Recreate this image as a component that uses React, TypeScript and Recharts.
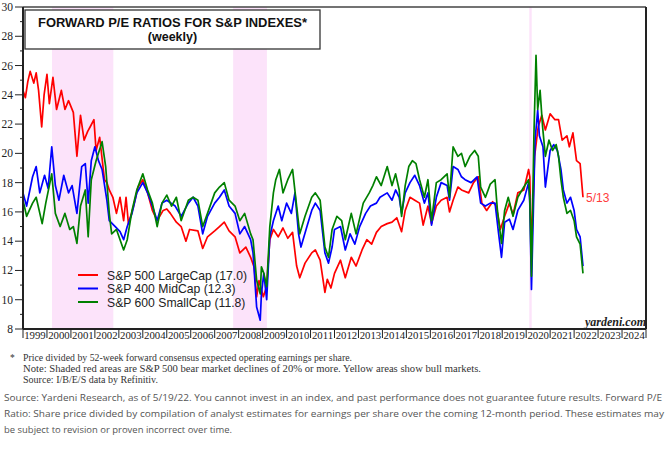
import React from 'react';
import { LineChart, Line, XAxis, YAxis, ReferenceArea, ReferenceLine } from 'recharts';

// Forward P/E readings, [decimal year, ratio]
const LARGE_CAP: Array<[number, number]> = [
  [1999.0, 24.3], [1999.1, 23.8], [1999.2, 24.9], [1999.3, 25.6], [1999.45, 24.8], [1999.55, 25.5],
  [1999.65, 24.3], [1999.78, 21.8], [1999.88, 24.0], [2000.0, 25.4], [2000.1, 23.4], [2000.25, 25.2],
  [2000.4, 23.0], [2000.6, 24.3], [2000.75, 23.0], [2000.9, 23.6], [2001.1, 22.8], [2001.25, 19.8],
  [2001.4, 22.6], [2001.55, 20.9], [2001.7, 21.5], [2001.8, 21.8], [2001.96, 22.3], [2002.05, 20.2],
  [2002.2, 21.1], [2002.4, 18.2], [2002.5, 18.0], [2002.6, 17.5], [2002.75, 17.0], [2002.9, 15.9],
  [2003.05, 17.0], [2003.2, 15.4], [2003.3, 17.0], [2003.4, 15.2], [2003.6, 16.3], [2003.8, 17.7],
  [2004.0, 18.2], [2004.2, 17.3], [2004.4, 16.1], [2004.6, 15.4], [2004.85, 16.1], [2005.0, 16.2],
  [2005.15, 15.9], [2005.4, 15.3], [2005.6, 15.0], [2005.8, 14.0], [2005.95, 14.8], [2006.3, 14.7],
  [2006.5, 13.5], [2006.7, 14.3], [2007.0, 14.7], [2007.2, 15.0], [2007.4, 15.3], [2007.6, 14.7],
  [2007.85, 14.3], [2008.05, 13.2], [2008.3, 13.6], [2008.5, 12.9], [2008.65, 12.2], [2008.75, 10.2],
  [2008.85, 11.3], [2009.03, 10.2], [2009.17, 10.9], [2009.3, 14.1], [2009.45, 14.8], [2009.65, 14.3],
  [2009.85, 14.9], [2010.05, 14.2], [2010.25, 14.6], [2010.42, 12.3], [2010.55, 11.5], [2010.77, 12.5],
  [2011.05, 13.2], [2011.2, 13.4], [2011.4, 12.7], [2011.6, 10.5], [2011.7, 11.4], [2011.85, 10.8],
  [2012.0, 11.8], [2012.25, 12.7], [2012.45, 11.5], [2012.7, 12.9], [2012.9, 12.3], [2013.15, 13.4],
  [2013.35, 14.1], [2013.55, 13.8], [2013.75, 14.6], [2013.95, 15.0], [2014.2, 15.2], [2014.4, 15.3],
  [2014.6, 15.6], [2014.8, 14.65], [2014.95, 16.1], [2015.15, 17.0], [2015.35, 16.8], [2015.55, 16.6],
  [2015.7, 15.1], [2015.9, 16.4], [2016.05, 15.2], [2016.25, 16.4], [2016.45, 16.8], [2016.7, 17.0],
  [2016.8, 16.0], [2016.95, 16.8], [2017.15, 17.7], [2017.3, 17.5], [2017.6, 17.3], [2017.8, 18.0],
  [2018.0, 18.4], [2018.15, 16.6], [2018.35, 16.1], [2018.6, 16.7], [2018.75, 16.4], [2018.92, 14.8],
  [2019.1, 15.7], [2019.3, 16.6], [2019.45, 15.8], [2019.65, 17.3], [2019.9, 17.5], [2020.1, 18.9],
  [2020.15, 18.4], [2020.22, 13.4], [2020.35, 19.8], [2020.5, 21.8], [2020.65, 22.6], [2020.8, 21.6],
  [2021.0, 22.7], [2021.2, 22.3], [2021.35, 22.3], [2021.5, 20.9], [2021.7, 21.2], [2021.8, 20.45],
  [2021.95, 21.4], [2022.1, 19.5], [2022.25, 19.3], [2022.37, 17.0],
];

const MID_CAP: Array<[number, number]> = [
  [1999.0, 17.3], [1999.15, 16.4], [1999.3, 17.6], [1999.4, 18.4], [1999.55, 19.1], [1999.7, 17.3],
  [1999.9, 18.5], [2000.05, 17.6], [2000.2, 20.45], [2000.35, 17.8], [2000.5, 16.8], [2000.7, 18.5],
  [2000.9, 17.3], [2001.05, 17.8], [2001.25, 15.9], [2001.45, 19.1], [2001.6, 19.3], [2001.72, 16.6],
  [2001.85, 19.5], [2002.0, 20.45], [2002.15, 19.5], [2002.3, 18.9], [2002.5, 16.8], [2002.6, 15.4],
  [2002.85, 15.0], [2003.05, 14.65], [2003.2, 14.1], [2003.35, 15.0], [2003.55, 15.9], [2003.75, 17.3],
  [2004.0, 18.0], [2004.2, 17.3], [2004.4, 16.4], [2004.6, 15.4], [2004.8, 16.6], [2005.0, 16.8],
  [2005.35, 16.4], [2005.6, 15.7], [2005.9, 16.6], [2006.1, 17.0], [2006.3, 16.4], [2006.5, 14.5],
  [2006.7, 15.7], [2007.0, 16.6], [2007.2, 17.0], [2007.4, 17.5], [2007.6, 16.4], [2007.85, 15.9],
  [2008.05, 14.5], [2008.25, 15.0], [2008.5, 14.1], [2008.6, 13.2], [2008.75, 9.5], [2008.9, 8.6],
  [2008.95, 10.4], [2009.05, 11.8], [2009.17, 10.0], [2009.3, 14.3], [2009.45, 15.4], [2009.65, 16.4],
  [2009.8, 15.4], [2010.0, 16.6], [2010.2, 15.9], [2010.35, 17.3], [2010.5, 14.5], [2010.6, 13.6],
  [2010.85, 15.0], [2011.05, 16.1], [2011.2, 16.6], [2011.4, 16.1], [2011.6, 13.2], [2011.75, 12.5],
  [2011.9, 13.6], [2012.0, 14.8], [2012.25, 15.0], [2012.45, 13.4], [2012.65, 14.5], [2012.85, 13.8],
  [2013.05, 15.0], [2013.3, 15.9], [2013.5, 16.4], [2013.75, 16.6], [2013.9, 17.0], [2014.2, 17.3],
  [2014.4, 16.8], [2014.55, 17.5], [2014.7, 17.0], [2014.8, 15.9], [2014.95, 17.3], [2015.15, 18.0],
  [2015.35, 18.5], [2015.55, 17.8], [2015.75, 16.6], [2015.9, 17.3], [2016.05, 15.1], [2016.25, 17.0],
  [2016.45, 18.0], [2016.7, 17.8], [2016.8, 16.8], [2016.95, 19.1], [2017.15, 18.9], [2017.3, 18.4],
  [2017.45, 18.2], [2017.7, 18.0], [2017.95, 18.4], [2018.1, 16.6], [2018.3, 16.4], [2018.5, 16.6],
  [2018.7, 16.6], [2018.85, 14.5], [2018.97, 12.9], [2019.1, 15.3], [2019.3, 15.5], [2019.45, 14.8],
  [2019.65, 16.1], [2019.9, 16.8], [2020.1, 18.0], [2020.15, 16.6], [2020.22, 10.7], [2020.37, 20.9],
  [2020.48, 22.96], [2020.55, 21.2], [2020.7, 20.45], [2020.8, 17.7], [2021.0, 20.2], [2021.15, 20.6],
  [2021.3, 20.2], [2021.45, 18.9], [2021.55, 17.5], [2021.7, 16.6], [2021.85, 17.0], [2022.0, 16.1],
  [2022.1, 14.8], [2022.25, 14.3], [2022.37, 12.3],
];

const SMALL_CAP: Array<[number, number]> = [
  [1999.0, 16.8], [1999.15, 15.7], [1999.4, 16.6], [1999.55, 17.0], [1999.8, 15.2], [1999.95, 16.6],
  [2000.2, 18.6], [2000.35, 15.9], [2000.55, 15.0], [2000.75, 15.9], [2000.95, 14.8], [2001.1, 15.0],
  [2001.25, 13.85], [2001.4, 16.4], [2001.6, 17.5], [2001.72, 14.3], [2001.85, 18.2], [2002.05, 19.5],
  [2002.3, 20.8], [2002.45, 19.1], [2002.6, 15.9], [2002.7, 14.5], [2002.9, 14.8], [2003.05, 14.1],
  [2003.2, 13.4], [2003.35, 14.1], [2003.55, 16.1], [2003.75, 17.5], [2004.0, 18.6], [2004.2, 17.5],
  [2004.4, 16.6], [2004.6, 15.0], [2004.8, 16.6], [2005.0, 17.15], [2005.2, 16.4], [2005.4, 17.0],
  [2005.6, 15.4], [2005.9, 16.8], [2006.1, 17.0], [2006.3, 16.8], [2006.5, 15.0], [2006.7, 15.9],
  [2007.0, 17.3], [2007.2, 17.7], [2007.4, 18.0], [2007.6, 16.8], [2007.85, 16.4], [2008.05, 15.4],
  [2008.25, 15.9], [2008.5, 14.5], [2008.6, 14.1], [2008.75, 11.35], [2008.9, 10.4], [2008.95, 12.25],
  [2009.05, 11.8], [2009.17, 10.9], [2009.3, 15.0], [2009.45, 17.3], [2009.55, 18.2], [2009.7, 18.9],
  [2009.85, 17.3], [2010.05, 18.2], [2010.25, 18.9], [2010.42, 16.4], [2010.55, 14.5], [2010.77, 15.7],
  [2011.05, 17.0], [2011.2, 17.3], [2011.4, 16.8], [2011.6, 13.6], [2011.75, 12.9], [2011.9, 14.8],
  [2012.1, 15.7], [2012.3, 15.4], [2012.45, 14.1], [2012.7, 15.9], [2012.9, 14.5], [2013.2, 16.6],
  [2013.45, 17.3], [2013.6, 17.8], [2013.75, 18.4], [2013.95, 17.8], [2014.2, 19.1], [2014.4, 17.8],
  [2014.55, 18.6], [2014.7, 17.5], [2014.8, 15.7], [2014.95, 17.8], [2015.1, 19.1], [2015.25, 19.5],
  [2015.4, 19.3], [2015.55, 18.2], [2015.75, 17.0], [2015.9, 18.2], [2016.05, 15.4], [2016.25, 18.0],
  [2016.45, 18.2], [2016.7, 18.6], [2016.8, 17.0], [2016.95, 20.45], [2017.15, 19.8], [2017.3, 20.0],
  [2017.45, 19.1], [2017.65, 19.8], [2017.85, 20.2], [2018.0, 19.8], [2018.1, 17.7], [2018.3, 17.0],
  [2018.5, 17.9], [2018.7, 18.2], [2018.8, 16.1], [2018.97, 13.85], [2019.1, 16.1], [2019.25, 17.0],
  [2019.45, 15.7], [2019.65, 17.0], [2019.9, 17.7], [2020.1, 18.2], [2020.15, 17.0], [2020.22, 11.6],
  [2020.32, 21.1], [2020.41, 26.7], [2020.48, 23.0], [2020.58, 24.3], [2020.68, 21.9], [2020.8, 19.8],
  [2020.95, 20.9], [2021.1, 20.2], [2021.25, 20.6], [2021.35, 19.8], [2021.45, 18.2], [2021.55, 17.0],
  [2021.7, 15.9], [2021.85, 16.1], [2022.0, 15.4], [2022.1, 14.3], [2022.25, 13.8], [2022.37, 11.8],
];

const SERIES = [
  { name: 'S&P 500 LargeCap', color: '#ff0000', points: LARGE_CAP },
  { name: 'S&P 400 MidCap', color: '#0000ff', points: MID_CAP },
  { name: 'S&P 600 SmallCap', color: '#008000', points: SMALL_CAP },
];

// S&P 500 bear markets (declines of 20% or more), decimal years
const BEAR_MARKETS: Array<[number, number]> = [
  [2000.21, 2002.77],
  [2007.77, 2009.18],
  [2020.13, 2020.23],
];

const YEAR_TICKS = Array.from({ length: 27 }, (_, i) => 1999 + i);
const PE_TICKS = Array.from({ length: 23 }, (_, i) => 8 + i);
const LAST_DATE_LABEL = '5/13';

const FOOTNOTES = [
  'Price divided by 52-week forward consensus expected operating earnings per share.',
  'Note: Shaded red areas are S&P 500 bear market declines of 20% or more. Yellow areas show bull markets.',
  'Source: I/B/E/S data by Refinitiv.',
];
const FOOTNOTE_WIDTHS = [329, 458, 135];

const SOURCE_LINES = [
  'Source: Yardeni Research, as of 5/19/22. You cannot invest in an index, and past performance does not guarantee future results. Forward P/E',
  'Ratio: Share price divided by compilation of analyst estimates for earnings per share over the coming 12-month period. These estimates may',
  'be subject to revision or proven incorrect over time.',
];
const SOURCE_WIDTHS = [658, 660, 228];

const W = 672;
const CHART_H = 350;
const PLOT_LEFT = 23;
const PLOT_RIGHT = 646;
const HALF_YEAR_PX = (PLOT_RIGHT - PLOT_LEFT) / (YEAR_TICKS.length - 1) / 2;

const SERIF = '"Liberation Serif", "Times New Roman", serif';
const SANS = '"Liberation Sans", Arial, sans-serif';
const AXIS_INK = '#222';

const LeftTick = (props: any) => {
  const { x, y, payload } = props;
  const major = payload.value % 2 === 0;
  return (
    <g>
      <line x1={major ? x - 8 : x - 3} x2={x} y1={y} y2={y} stroke={AXIS_INK} strokeWidth={1} />
      {major && (
        <text x={x - 10} y={y} dy={4} textAnchor="end" fontFamily={SERIF} fontSize={11.5} fill={AXIS_INK}>
          {payload.value}
        </text>
      )}
    </g>
  );
};

const RightTick = (props: any) => {
  const { x, y, payload } = props;
  const major = payload.value % 2 === 0;
  return (
    <g>
      <line x1={x} x2={major ? x + 7 : x + 3} y1={y} y2={y} stroke={AXIS_INK} strokeWidth={1} />
      {major && (
        <text x={x + 9} y={y} dy={4} textAnchor="start" fontFamily={SERIF} fontSize={11.5} fill={AXIS_INK}>
          {payload.value}
        </text>
      )}
    </g>
  );
};

const YearTick = (props: any) => {
  const { x, y, payload } = props;
  const year = payload.value;
  return (
    <g>
      <line x1={x} x2={x} y1={y} y2={y + 9} stroke={AXIS_INK} strokeWidth={1} />
      {year < YEAR_TICKS[YEAR_TICKS.length - 1] && (
        <text x={x + HALF_YEAR_PX} y={y + 10} textAnchor="middle" fontFamily={SERIF} fontSize={10.8} fill={AXIS_INK}>
          {year}
        </text>
      )}
    </g>
  );
};

const EndLabel = (props: any) => {
  const { x, y, index } = props;
  if (index !== LARGE_CAP.length - 1) return null;
  return (
    <text x={x + 3} y={y + 5} fontFamily={SANS} fontSize={12} fill="#ff3b3b">
      {LAST_DATE_LABEL}
    </text>
  );
};

export default function App() {
  return (
    <div style={{ position: 'fixed', left: 0, top: 0, width: W, height: 456, background: '#fff' }}>
      <div style={{ position: 'absolute', left: 0, top: 0 }}>
        <LineChart width={W} height={CHART_H} margin={{ top: 7, right: 0, bottom: 0, left: 0 }}>
          <XAxis
            type="number"
            dataKey="x"
            domain={[YEAR_TICKS[0], YEAR_TICKS[YEAR_TICKS.length - 1]]}
            ticks={YEAR_TICKS}
            interval={0}
            allowDataOverflow
            height={21}
            tickSize={0}
            tickMargin={0}
            tickLine={false}
            axisLine={{ stroke: AXIS_INK, strokeWidth: 2 }}
            tick={<YearTick />}
          />
          <YAxis
            yAxisId="left"
            orientation="left"
            domain={[8, 30]}
            ticks={PE_TICKS}
            interval={0}
            width={PLOT_LEFT}
            tickSize={0}
            tickMargin={0}
            tickLine={false}
            axisLine={{ stroke: AXIS_INK, strokeWidth: 2 }}
            tick={<LeftTick />}
          />
          <YAxis
            yAxisId="right"
            orientation="right"
            domain={[8, 30]}
            ticks={PE_TICKS}
            interval={0}
            width={W - PLOT_RIGHT}
            tickSize={0}
            tickMargin={0}
            tickLine={false}
            axisLine={{ stroke: AXIS_INK, strokeWidth: 2 }}
            tick={<RightTick />}
          />
          {BEAR_MARKETS.map(([a, b]) => (
            <ReferenceArea key={a} yAxisId="left" x1={a} x2={b} y1={8} y2={30} fill="#fce3fa" fillOpacity={1} stroke="none" />
          ))}
          <ReferenceLine yAxisId="left" y={30} stroke="#444" strokeWidth={1.5} />
          {SERIES.map((s, i) => (
            <Line
              key={s.name}
              yAxisId="left"
              data={s.points.map(([x, v]) => ({ x, v }))}
              dataKey="v"
              name={s.name}
              type="linear"
              stroke={s.color}
              strokeWidth={1.7}
              strokeLinejoin="round"
              dot={false}
              isAnimationActive={false}
              label={i === 0 ? <EndLabel /> : false}
            />
          ))}
        </LineChart>
      </div>
      <svg width={W} height={456} style={{ position: 'absolute', left: 0, top: 0, pointerEvents: 'none' }}>
        {/* title box */}
        <rect x={25} y={10} width={295} height={39} fill="#fff" stroke="#333" strokeWidth={1.3} />
        <text x={172.5} y={27} textAnchor="middle" fontFamily={SANS} fontWeight="bold" fontSize={12.5} fill="#111" textLength={269} lengthAdjust="spacingAndGlyphs">
          FORWARD P/E RATIOS FOR S&amp;P INDEXES*
        </text>
        <text x={172.5} y={40.5} textAnchor="middle" fontFamily={SANS} fontWeight="bold" fontSize={12.5} fill="#111">
          (weekly)
        </text>

        {/* legend */}
        {SERIES.map((s, i) => {
          const y = 275 + i * 13.5;
          const last = s.points[s.points.length - 1][1];
          return (
            <g key={s.name}>
              <line x1={78} x2={98} y1={y} y2={y} stroke={s.color} strokeWidth={2} />
              <text x={107} y={y + 4.5} fontFamily={SANS} fontSize={12.2} fill="#222">
                {`${s.name} (${last.toFixed(1)})`}
              </text>
            </g>
          );
        })}

        <text x={585} y={326} fontFamily={SERIF} fontWeight="bold" fontStyle="italic" fontSize={12} fill="#222">
          yardeni.com
        </text>

        {/* footnotes */}
        <text x={10} y={361} fontFamily={SERIF} fontSize={9.5} fill="#333">*</text>
        {FOOTNOTES.map((t, i) => (
          <text key={i} x={23} y={361 + i * 11} fontFamily={SERIF} fontSize={9.5} fill="#333"
            textLength={FOOTNOTE_WIDTHS[i]} lengthAdjust="spacingAndGlyphs">
            {t}
          </text>
        ))}

        {/* source */}
        {SOURCE_LINES.map((t, i) => (
          <text key={i} x={4} y={401 + i * 16} fontFamily='"Open Sans", "Noto Sans", sans-serif' fontSize={9.6} fill="#555"
            textLength={SOURCE_WIDTHS[i]} lengthAdjust="spacingAndGlyphs">
            {t}
          </text>
        ))}
      </svg>
    </div>
  );
}
